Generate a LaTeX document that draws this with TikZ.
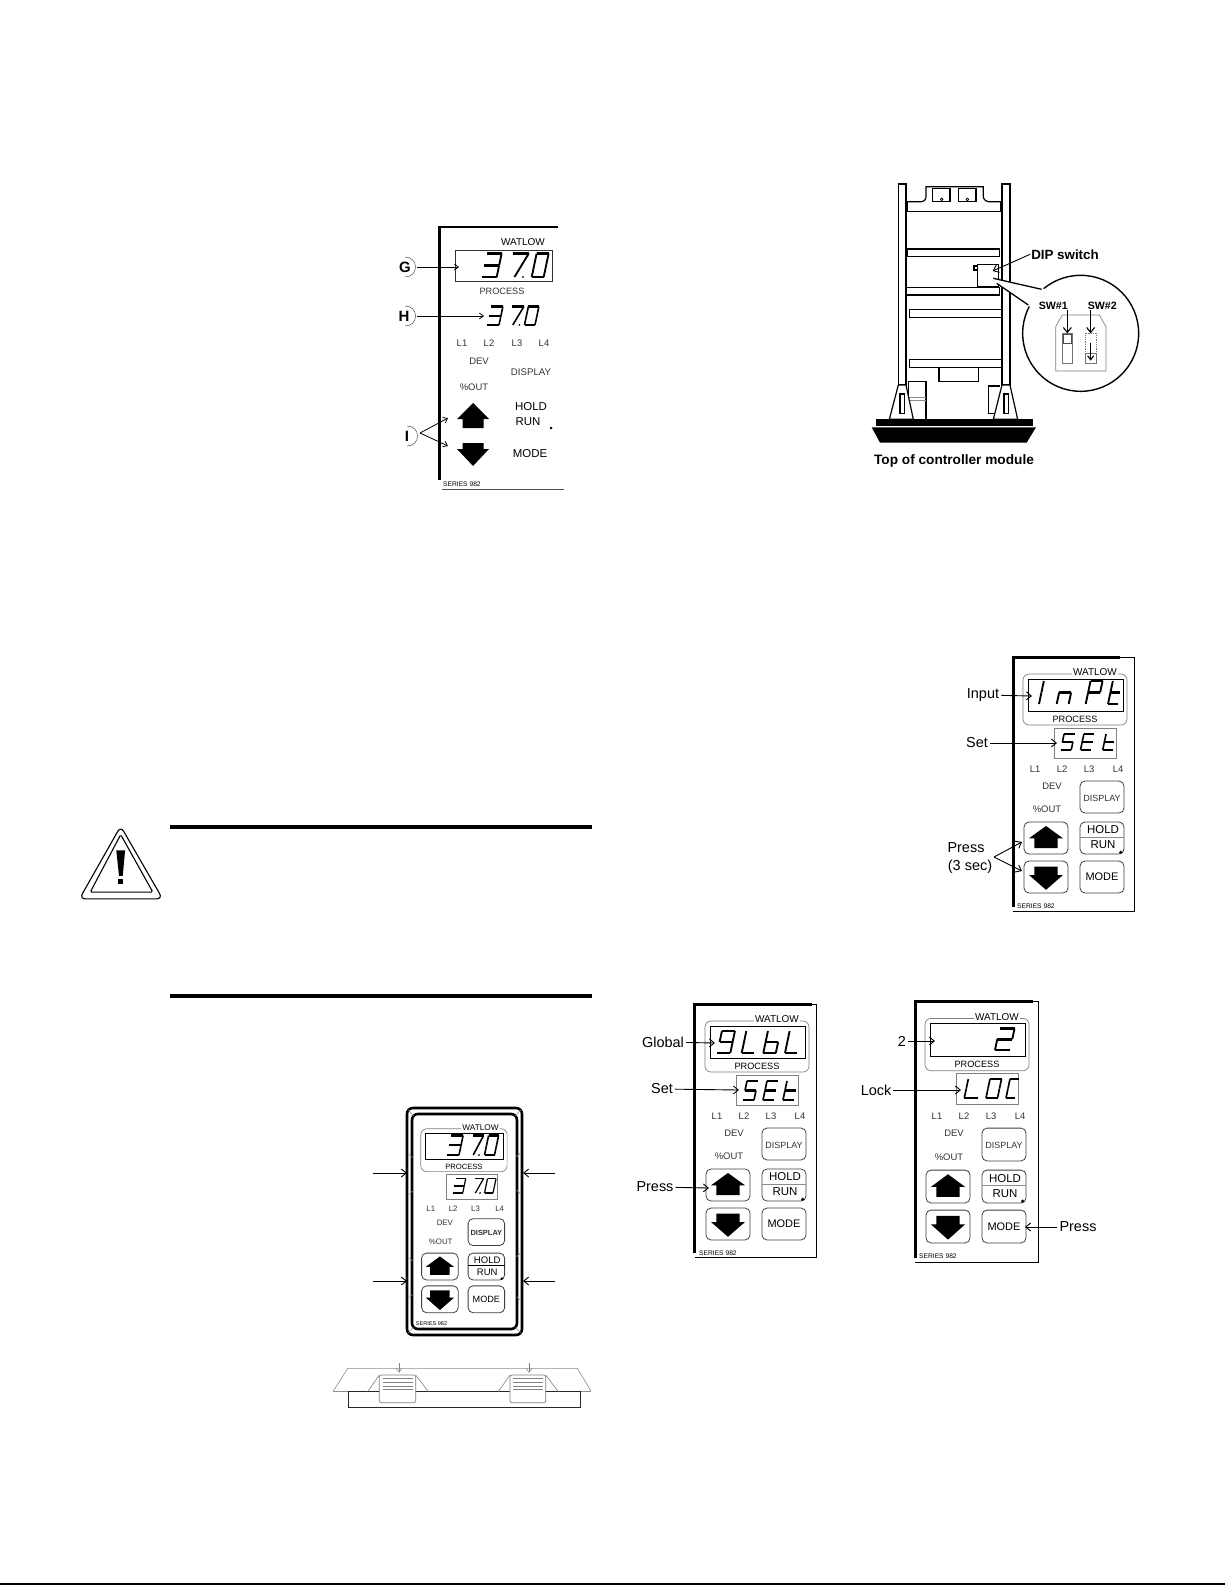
\documentclass[tikz,border=0pt]{standalone}
\usepackage{fontspec}
\setmainfont{Liberation Sans}
\usetikzlibrary{arrows.meta}
\def\gldef#1#2{\expandafter\def\csname gl#1\endcsname{#2}}
\gldef{3}{a,b,c,d,g}
\gldef{7p}{a,z,p}
\gldef{0}{a,b,c,d,e,f}
\gldef{S}{a,c,d,f,g}
\gldef{E}{a,d,e,f,g}
\gldef{t}{d,e,f,g}
\gldef{I}{b,c}
\gldef{n}{c,e,g}
\gldef{P}{a,b,e,f,g}
\gldef{9}{a,b,c,d,f,g}
\gldef{L}{d,e,f}
\gldef{b}{c,d,e,f,g}
\gldef{C}{a,d,e,f}
\gldef{O}{a,b,c,d,e,f}
\gldef{2}{a,b,d,e,g}
\def\sega{\draw[segh] (0,-\H)--(\W,-\H);}
\def\segb{\draw[segv] (\W,-\H)--(\W,{-\H/2});}
\def\segc{\draw[segv] (\W,{-\H/2})--(\W,0);}
\def\segd{\draw[segh] (0,0)--(\W,0);}
\def\sege{\draw[segv] (0,0)--(0,{-\H/2});}
\def\segf{\draw[segv] (0,{-\H/2})--(0,-\H);}
\def\segg{\draw[segh] (0,{-\H/2})--(\W,{-\H/2});}
\def\segz{\draw[segv] (\W,-\H)--({.4*\W},0);}
\def\segp{\fill ({.95*\W},0) circle[radius=1pt];}
% baseline y, height, line width, list of x/width/glyph
\newcommand{\sevat}[4]{%
  \def\H{#2}\def\LW{#3}%
  \foreach \xx/\ww/\ch in {#4}{%
    \begin{scope}[shift={(\xx,#1)},xslant=.21]
      \def\W{\ww}%
      \edef\seglist{\csname gl\ch\endcsname}%
      \foreach \s in \seglist {\csname seg\s\endcsname}
    \end{scope}}}
\newcommand{\arrowup}[2]{\fill (#1,{#2-12})--++(17,12.3)--++(-5.3,0)--++(0,9.7)--++(-23.4,0)--++(0,-9.7)--++(-5.3,0)--cycle;}
\newcommand{\arrowdn}[2]{\fill (#1,{#2+12.8})--++(17,-14.8)--++(-5.3,0)--++(0,-8.5)--++(-23.4,0)--++(0,8.5)--++(-5.3,0)--cycle;}
\newcommand{\edgeframe}[5]{% x,y,xthick,xright,ybottom
  \draw[line width=.8pt] (#3,#2)--(#4,#2)--(#4,#5)--(#1,#5);
  \draw[line width=3pt] (#3,#2)--(#1,#2)--(#1,{#5-4});}
\def\fscale{1}\def\dispfont{\relax}\def\holdcol{black!45}
% prefix, x, y, xscale, yscale, font scale
\newcommand{\panel}[6]{%
 \def\fscale{#6}%
 \begin{scope}[shift={(#2,#3)},xscale=#4,yscale=#5]
  \draw[panelgray,rounded corners=6pt] (10,17) rectangle (114,68);
  \draw[line width=.8pt] (15,22) rectangle (110,54);
  \node[watl,fill=white] (#1-wat) at (82,15.5) {WATLOW};
  \node[proc,fill=white] (#1-proc) at (62,62) {PROCESS};
  \draw[panelgray,line width=1pt] (41,71) rectangle (103,101);
  \node[small] (#1-l1) at (22,112) {L1};
  \node[small] (#1-l2) at (49,112) {L2};
  \node[small] (#1-l3) at (76,112) {L3};
  \node[small] (#1-l4) at (105,112) {L4};
  \node[small] (#1-dev) at (39,129) {DEV};
  \node[small] (#1-out) at (34,152) {\%OUT};
  \draw[btn] (67,124) rectangle (111,156);
  \node[small,font=\fontsize{9}{9}\selectfont\dispfont] (#1-disp) at (89,141) {DISPLAY};
  \draw[btn] (11,165) rectangle (55,197);
  \arrowup{33}{181}
  \draw[btn] (11,204) rectangle (55,236);
  \arrowdn{33}{220}
  \draw[btn] (67,165) rectangle (111,197);
  \draw[\holdcol,line width=.9pt] (67,180)--(111,180);
  \node[hold] (#1-hold) at (90,173) {HOLD};
  \node[hold] (#1-run) at (90,188) {RUN};
  \fill (107.7,195.3) circle[radius=1.7pt];
  \draw[btn] (67,204) rectangle (111,236);
  \node[mode] (#1-mode) at (89,220) {MODE};
  \node[series,anchor=west] (#1-ser) at (4,249) {SERIES 982};
 \end{scope}}
\tikzset{
 segh/.style={line width=\LW pt,line cap=butt},
 segv/.style={line width=.72*\LW pt,line cap=butt},
 panelgray/.style={draw=black!50,line width=.7pt},
 btn/.style={draw=black!75,line width=.8pt,rounded corners=5pt},
 small/.style={font=\fontsize{9.5}{10}\selectfont,text=black!80,inner sep=0pt,scale=\fscale},
 watl/.style={font=\fontsize{10}{10}\selectfont,inner sep=1.5pt,scale=\fscale},
 proc/.style={font=\fontsize{9.2}{10}\selectfont,inner sep=1.5pt,scale=\fscale},
 hold/.style={font=\fontsize{11.5}{12}\selectfont,inner sep=0pt,scale=\fscale},
 mode/.style={font=\fontsize{11}{11}\selectfont,inner sep=0pt,scale=\fscale},
 series/.style={font=\fontsize{6.7}{7}\selectfont,inner sep=0pt,scale=\fscale},
 outl/.style={font=\fontsize{14.5}{15}\selectfont,inner sep=2pt},
 dipb/.style={font=\bfseries\fontsize{13.7}{14}\selectfont,inner sep=1pt},
 swb/.style={font=\bfseries\fontsize{10.7}{11}\selectfont,inner sep=0pt},
 letr/.style={font=\bfseries\fontsize{15}{15}\selectfont,inner sep=3pt},
 arr/.style={-{Straight Barb[length=5pt,width=8pt]},line width=.9pt},
 arrs/.style={-{Straight Barb[length=4pt,width=6pt]},line width=.8pt},
 modbar/.style={draw=black,line width=1.5pt,fill=white},
}
\begin{document}
\begin{tikzpicture}[x=1bp,y=-1bp]
\useasboundingbox (0,0) rectangle (1225,1585);
\fill[white] (0,0) rectangle (1225,1585);
\draw[line width=1.6pt] (0,1584)--(1225,1584);

%%% Panel A (top left)
\draw[line width=3pt] (558,227)--(439,227)--(439,480);
\draw[line width=.7pt,black!70] (442,489)--(564,489);
\draw[black!80,line width=.7pt] (455,250) rectangle (552,281);
\node[watl] (awat) at (523,242) {WATLOW};
\node[small,font=\fontsize{9.2}{10}\selectfont] (aproc) at (502,291) {PROCESS};
\sevat{277}{23.5}{2.6}{481.7/15/3,508.3/15.5/7p,531.7/12/0}
\sevat{325}{18.5}{2.2}{487/12/3,508/12/7p,524.5/10.5/0}
\node[small] (al1) at (462,343) {L1};
\node[small] (al2) at (489,343) {L2};
\node[small] (al3) at (517,343) {L3};
\node[small] (al4) at (544,343) {L4};
\node[small] (adev) at (479,361) {DEV};
\node[small] (aout) at (474,387) {\%OUT};
\node[small,font=\fontsize{9.7}{10}\selectfont] (adisp) at (531,372) {DISPLAY};
\node[hold] (ahold) at (531,407) {HOLD};
\node[hold] (arun) at (528,422) {RUN};
\fill (551,428) circle[radius=1.5pt];
\node[mode,font=\fontsize{11.5}{12}\selectfont] (amode) at (530,454) {MODE};
\node[series,anchor=west] (aser) at (443,484) {SERIES 982};
\fill (473,403)--(489,419)--(483.5,419)--(483.5,428)--(462.5,428)--(462.5,419)--(457,419)--cycle;
\fill (473,466)--(489,449)--(483.5,449)--(483.5,443)--(462.5,443)--(462.5,449)--(457,449)--cycle;
\node[letr] (lg) at (405,267) {G};
\node[letr] (lh) at (404,316) {H};
\node[letr] (li) at (407,436) {I};
\draw[line width=.5pt,black!70] (405,257) .. controls (419,257) and (419,277) .. (405,277);
\draw[line width=.5pt,black!70] (405,306) .. controls (419,306) and (419,326) .. (405,326);
\draw[line width=.5pt,black!70] (407,426) .. controls (421,426) and (421,446) .. (407,446);
\coordinate (tg) at (459,267);
\coordinate (th) at (484,316);
\coordinate (ti1) at (448,418);
\coordinate (ti2) at (448,446);
\coordinate (ia) at (420,433);
\draw[arrs] (417,267) -- (tg);
\draw[arrs] (417,316) -- (th);
\draw[arrs] (ia) -- (ti1);
\draw[arrs] (ia) -- (ti2);

%%% Module (top right), zoom coordinates
\begin{scope}[shift={(850,170)},x=.33333bp,y=-.33333bp]
 \draw[line width=1.2pt] (145,645) rectangle (168,42);
 \draw[line width=1.2pt] (456,645) rectangle (480,42);
 \draw[line width=1.2pt] (168,95)--(215,95) .. controls (225,92) and (228,88) .. (228,78)--(228,50)--(400,50)--(400,78) .. controls (400,88) and (405,92) .. (415,95)--(456,95);
 \draw[line width=1.1pt] (248,95)--(248,55)--(300,55)--(300,95)--cycle;
 \draw[line width=1.1pt] (325,95)--(325,55)--(378,55)--(378,95)--cycle;
 \draw[line width=.7pt] (275,88) circle[radius=4];
 \draw[line width=.7pt] (352,88) circle[radius=4];
 \draw[line width=1.6pt] (172,95)--(172,125)--(452,125)--(452,95);
 \draw[modbar] (172,237) rectangle (448,260);
 \draw[modbar] (170,352) rectangle (448,375);
 \draw[modbar] (178,418) rectangle (456,442);
 \draw[modbar] (178,568) rectangle (456,592);
 \draw[line width=1.2pt] (267,592) rectangle (385,635);
 \draw[line width=1.1pt] (372,288) rectangle (383,300);
 \draw[line width=1.3pt,fill=white] (383,283) rectangle (445,350);
 \node[dipb,font=\bfseries\fontsize{13.4}{14}\selectfont] (dip) at (645,253) {DIP switch};
 \coordinate (diptip) at (428,303);
 \draw[arr] (dip.west) -- (diptip);
 % callout
 \draw[line width=1.4pt,fill=white] (692,490) circle[radius=174];
 \fill[white] (582,356)--(430,325)--(442,340)--(530,405)--(560,420)--(600,380)--cycle;
 \draw[line width=1.3pt] (575,358)--(430,325);
 \draw[line width=1.3pt] (535,405)--(440,340);
 \draw[black!50,line width=.7pt] (617,603)--(617,470)--(637,435)--(748,435)--(768,470)--(768,603)--cycle;
 \draw[black!55,line width=.8pt] (637,490) rectangle (668,580);
 \draw[black!70,line width=.8pt] (640,492) rectangle (665,520);
 \draw[black!55,line width=.8pt,densely dotted] (707,490) rectangle (740,550);
 \draw[black!55,line width=1.4pt] (707,550) rectangle (740,580);
 \node[swb] (sw1) at (610,408) {SW\#1};
 \node[swb] (sw2) at (757,408) {SW\#2};
 \coordinate (s1a) at (652,420);
 \coordinate (s1b) at (652,490);
 \coordinate (s2a) at (722,420);
 \coordinate (s2b) at (722,490);
 \coordinate (s3a) at (722,520);
 \coordinate (s3b) at (722,572);
 \draw[arr,line width=1.1pt] (s1a) -- (s1b);
 \draw[arr,line width=1.1pt] (s2a) -- (s2b);
 \draw[arrs,line width=1.1pt] (s3a) -- (s3b);
 % feet
 \draw[line width=1.1pt] (175,748)--(175,635)--(228,635)--(228,748);
 \draw[black!45,line width=.7pt] (175,682)--(228,682) (175,692)--(228,692);
 \draw[line width=1.1pt] (415,730)--(415,648)--(450,648);
 \draw[line width=1.1pt] (415,730)--(436,730);
 \draw[line width=1.2pt,fill=white] (145,645)--(118,748)--(190,748)--(168,645)--cycle;
 \draw[line width=1.2pt,fill=white] (456,645)--(430,748)--(503,748)--(480,645)--cycle;
 \draw[line width=1.2pt] (150,672) rectangle (163,730);
 \draw[line width=1.2pt] (462,672) rectangle (475,730);
 \fill (78,748) rectangle (550,768);
 \fill (65,772)--(558,772)--(530,818)--(90,818)--cycle;
 \node[dipb] (topmod) at (312,873) {Top of controller module};
\end{scope}

%%% Warning triangle and rules (zoom coordinates)
\begin{scope}[shift={(70,815)},x=.338bp,y=-.338bp]
 \fill (296,30) rectangle (1543,42);
 \fill (296,531) rectangle (1543,542);
 \draw[line width=1.1pt,rounded corners=6pt] (150,33)--(28,248)--(274,248)--cycle;
 \draw[line width=1.1pt,rounded corners=1.5pt] (150,58)--(60,228)--(245,228)--cycle;
 \fill (137,105)--(163,105)--(156,180)--(145,180)--cycle;
 \fill (143,188) rectangle (158,203);
\end{scope}

%%% Panel B (double frame)
\draw[line width=2.6pt,rounded corners=6pt] (407,1108) rectangle (522,1335);
\draw[line width=2.6pt,rounded corners=6pt] (412,1114) rectangle (517,1329);
\begin{scope}[shift={(360,1095)},x=.33333bp,y=-.33333bp]
 \draw[black!45,line width=.6pt]
  (148,178)--(157,188) (148,298)--(157,288) (148,488)--(157,498) (148,608)--(157,598)
  (470,185)--(480,175) (470,285)--(480,295) (470,485)--(480,475) (470,605)--(480,615)
  (145,45)--(160,62) (482,45)--(467,62) (145,713)--(160,698) (482,713)--(467,698);
\end{scope}
\def\dispfont{\bfseries}\def\holdcol{black}
\panel{b}{412.5}{1114.5}{.83}{.84}{.83}
\def\dispfont{\relax}\def\holdcol{black!45}
\sevat{1155}{19.5}{2.2}{447/12/3,469/10.5/7p,484.5/10/0}
\sevat{1193}{14.5}{1.7}{452.7/10/3,472/8.5/7p,484.5/8.5/0}
\coordinate (bl1) at (373,1173);
\coordinate (bl2) at (373,1281);
\coordinate (br1) at (555,1173);
\coordinate (br2) at (555,1281);
\coordinate (bt1) at (407,1173);
\coordinate (bt2) at (407,1281);
\coordinate (bt3) at (523,1173);
\coordinate (bt4) at (523,1281);
\draw[arr] (bl1) -- (bt1);
\draw[arr] (bl2) -- (bt2);
\draw[arr] (br1) -- (bt3);
\draw[arr] (br2) -- (bt4);

%%% Clip view
\begin{scope}[shift={(325,1350)},x=.33333bp,y=-.33333bp]
 \draw[black!45,line width=.6pt] (25,123)--(68,55)--(757,55)--(798,123);
 \draw[black!45,line width=.6pt] (25,123)--(70,123) (767,123)--(798,123);
 \draw[black!85,line width=.9pt] (70,125) rectangle (767,172);
 \foreach \cx/\cw in {163/0,555/-2}{
  \begin{scope}[shift={(\cx,0)}]
   \draw[black!50,line width=.6pt] (0,75)--(-35,125) ({109+\cw},75)--({147+\cw},125);
   \draw[black!50,line width=.7pt,fill=white,rounded corners=2pt] (0,75)--({109+\cw},75)--({109+\cw},158)--(0,158)--cycle;
   \draw[black!50,line width=.9pt] (10,85)--({102+\cw},85) (10,97)--({102+\cw},97) (10,108)--({102+\cw},108) (10,118)--({102+\cw},118);
  \end{scope}}
 \coordinate (ca1) at (222,40);
 \coordinate (ca2) at (222,68);
 \coordinate (cb1) at (612,40);
 \coordinate (cb2) at (612,68);
 \draw[arrs,black!50,line width=.5pt] (ca1) -- (ca2);
 \draw[arrs,black!50,line width=.5pt] (cb1) -- (cb2);
\end{scope}

%%% Panel C
\edgeframe{1013}{657}{1120}{1134}{911}
\panel{c}{1013}{657}{1}{1}{1}
\sevat{704}{23}{2.6}{1039/0/I,1056.7/12/n,1085.7/12/P,1108/10/t}
\sevat{750}{16}{2.2}{1060.7/10.5/S,1080.5/10.5/E,1102.7/10/t}
\node[outl] (cinput) at (983,695) {Input};
\node[outl] (cset) at (977,743) {Set};
\node[outl] (cpress) at (966,848) {Press};
\node[outl] (csec) at (970,867) {(3 sec)};
\coordinate (ci) at (1032,696);
\coordinate (cs) at (1057,743);
\coordinate (cp0) at (994,857);
\coordinate (cp1) at (1022,842);
\coordinate (cp2) at (1022,871);
\draw[arr] (cinput) -- (ci);
\draw[arr] (cset) -- (cs);
\draw[arr] (cp0) -- (cp1);
\draw[arr] (cp0) -- (cp2);

%%% Panel D
\edgeframe{694.5}{1004}{812}{816}{1257}
\panel{d}{695}{1004}{1}{1}{1}
\sevat{1053}{22}{2.6}{717.3/13/9,741.7/12/L,763.3/12.5/b,785/12/L}
\sevat{1100}{19}{2.3}{743/11/S,763/10.5/E,783/10.5/t}
\node[outl] (dglobal) at (663,1042) {Global};
\node[outl] (dset) at (662,1089) {Set};
\node[outl] (dpress) at (655,1187) {Press};
\coordinate (dg) at (715,1043);
\coordinate (ds) at (739,1090);
\coordinate (dp) at (709,1188);
\draw[arr] (dglobal) -- (dg);
\draw[arr] (dset) -- (ds);
\draw[arr] (dpress) -- (dp);

%%% Panel E
\edgeframe{915}{1001}{1033}{1038}{1262}
\panel{e}{915}{1001}{1}{1.025}{1}
\sevat{1050}{21.5}{2.6}{995/15/2}
\sevat{1098}{19}{2.3}{964.3/13.5/L,986/11.5/O,1006/9/C}
\node[outl] (etwo) at (902,1041) {2};
\node[outl] (elock) at (876,1090) {Lock};
\node[outl] (epress) at (1078,1227) {Press};
\coordinate (e2) at (935,1041);
\coordinate (el) at (961,1090);
\coordinate (ep) at (1025,1227);
\draw[arr] (etwo) -- (e2);
\draw[arr] (elock) -- (el);
\draw[arr] (epress) -- (ep);
\end{tikzpicture}
\end{document}
